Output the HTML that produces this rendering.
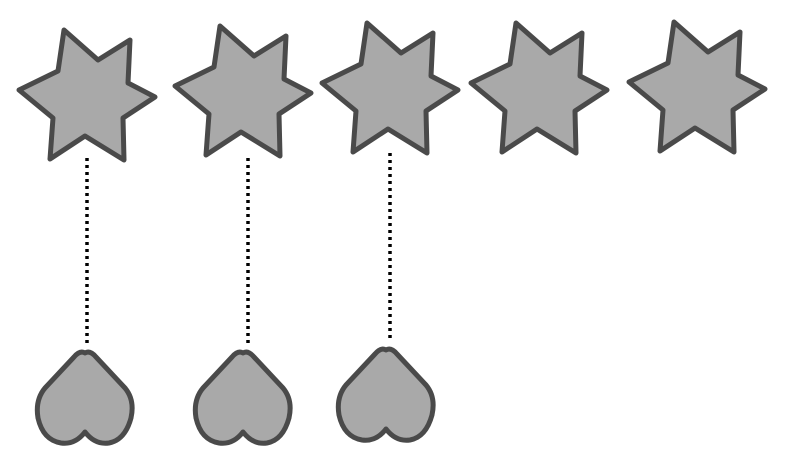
<!DOCTYPE html>
<html><head><style>html,body{margin:0;padding:0;background:#fff}svg{display:block}</style></head>
<body>
<svg width="785" height="463" viewBox="0 0 785 463" xmlns="http://www.w3.org/2000/svg">
<defs>
<polygon id="s" points="-26,-66 8,-36 40,-56 38,-13 65,1 33,22 34,64 -5,40 -40,63 -37,22 -71,-6 -32,-25" fill="#a9a9a9" stroke="#4a4a4a" stroke-width="5" stroke-linejoin="round"/>
<path id="h" d="M0,-47 Q5,-50 11,-43 L40,-12 Q50,0 46,18 Q40,40 24,43 Q10,45 0,32 Q-10,45 -24,43 Q-42,40 -47,18 Q-50,0 -40,-12 L-11,-43 Q-5,-50 0,-47 Z" fill="#a9a9a9" stroke="#4a4a4a" stroke-width="5" stroke-linejoin="round"/>
</defs>
<use href="#s" x="90" y="96"/>
<use href="#s" x="246" y="92"/>
<use href="#s" x="393" y="89"/>
<use href="#s" x="542" y="89"/>
<use href="#s" x="700" y="88"/>
<g stroke="#000" stroke-width="3.5" stroke-dasharray="3,4">
<line x1="87" y1="158" x2="87" y2="345"/>
<line x1="248" y1="158" x2="248" y2="345"/>
<line x1="390" y1="153" x2="390" y2="340"/>
</g>
<use href="#h" x="85" y="400"/>
<use href="#h" x="243" y="400"/>
<use href="#h" x="386" y="397"/>
</svg>
</body></html>
